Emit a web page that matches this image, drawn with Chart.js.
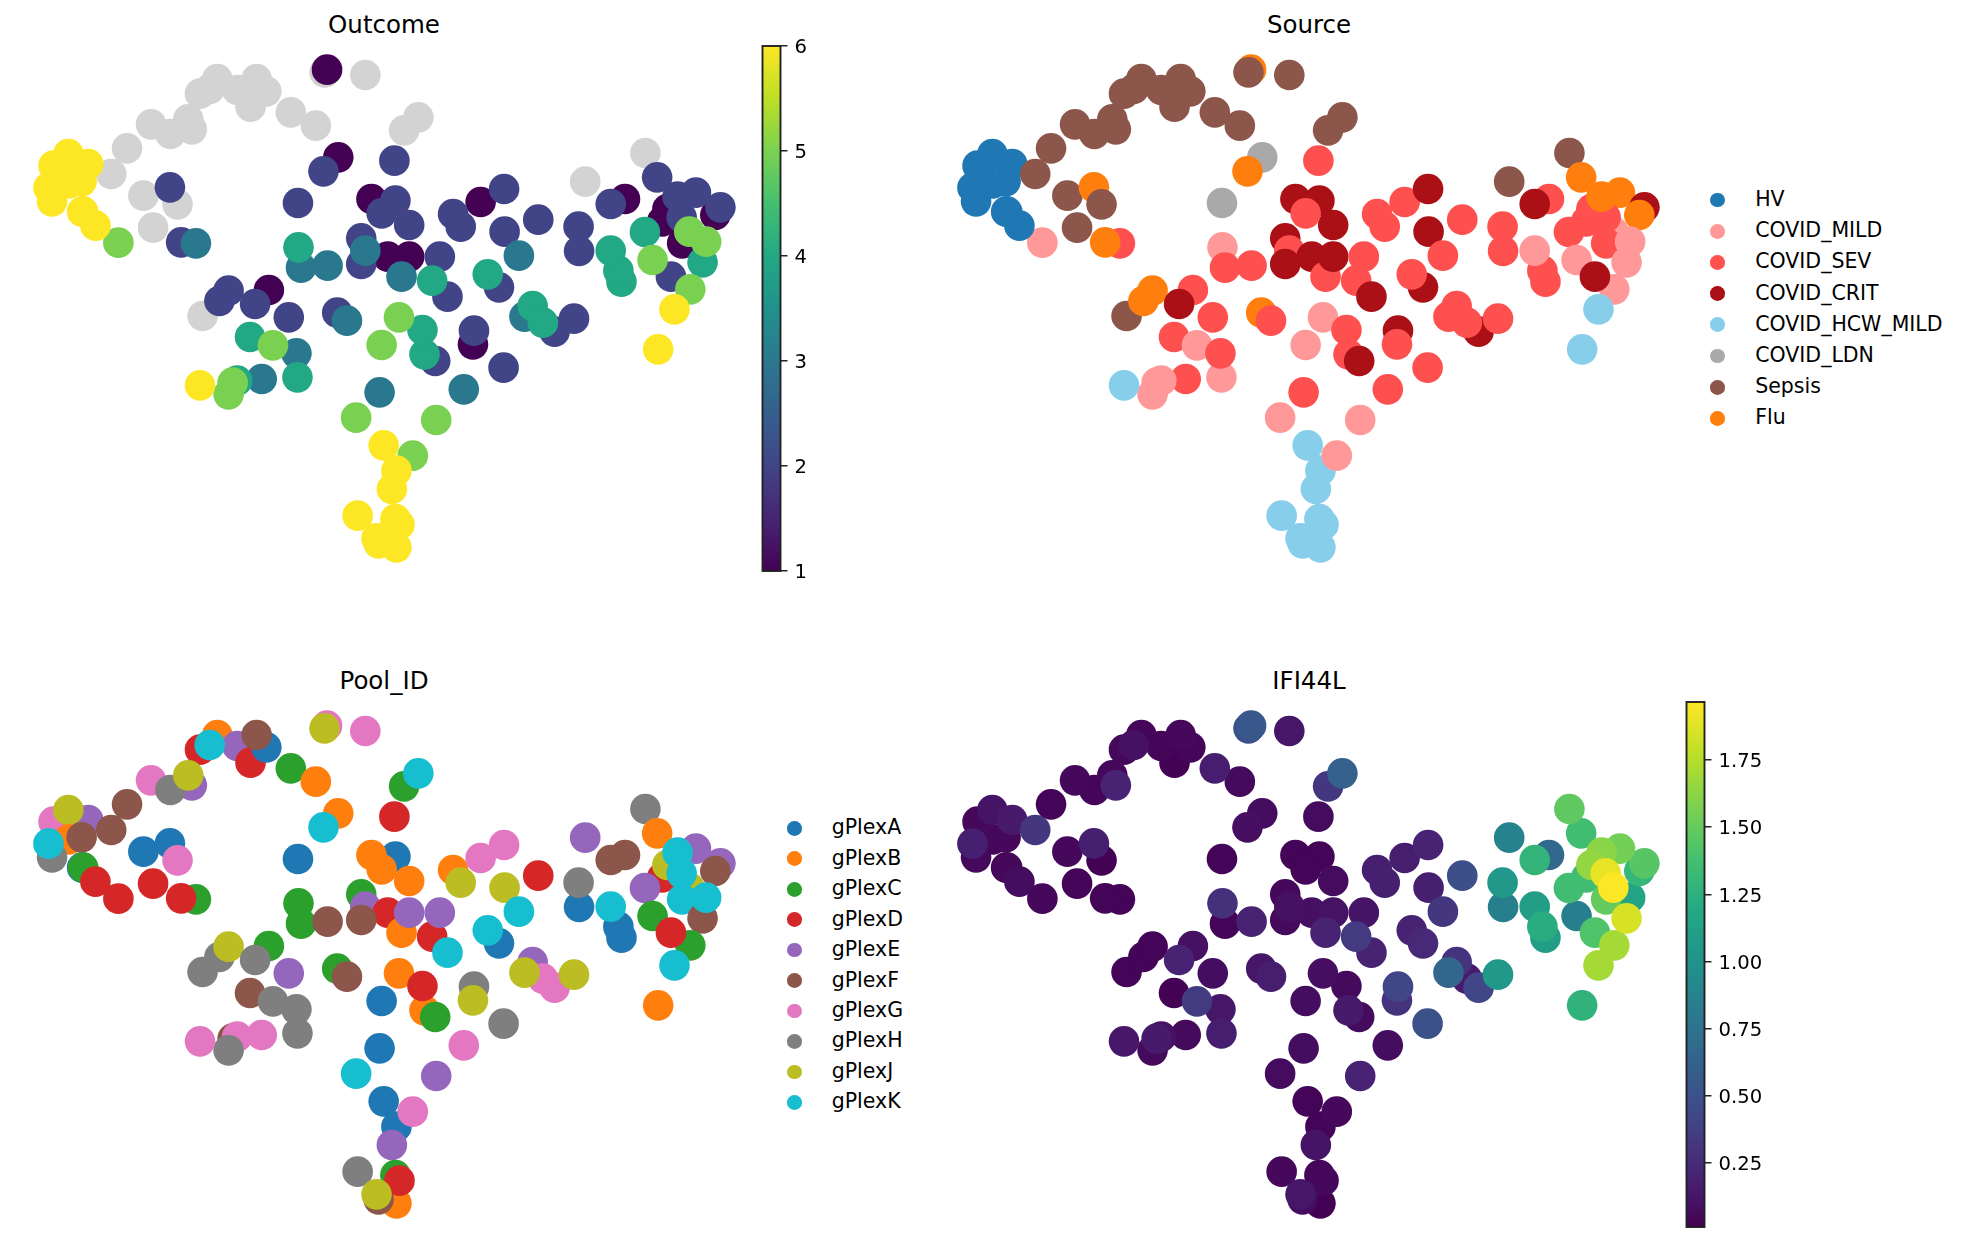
<!DOCTYPE html>
<html>
<head>
<meta charset="utf-8">
<title>UMAP panels</title>
<script src="https://cdn.jsdelivr.net/npm/chart.js@4"></script>
<style>
  html, body { margin: 0; padding: 0; background: #fff; }
  body { width: 1968px; height: 1242px; position: relative; overflow: hidden; font-family: "DejaVu Sans", sans-serif; color: #000; }
  canvas { position: absolute; }
  .title { position: absolute; font-size: 24.5px; line-height: 30px; transform: translateX(-50%); white-space: nowrap; }
  .key { position: absolute; font-size: 20.5px; line-height: 26px; white-space: pre; }
  .dot { position: absolute; width: 14.7px; height: 14.7px; border-radius: 50%; }
</style>
</head>
<body>
<script>
// embedding coordinates, one entry per sample, in plotting order
const umap1 = [
  6.41,6.36,7.16,4.26,3.92,4.65,4.11,4.91,5.22,5.03,
  5.70,6.19,7.92,8.20,2.96,3.76,3.34,3.69,2.49,1.05,
  1.73,1.34,1.35,1.02,0.95,1.60,2.18,1.61,1.63,2.32,
  1.87,2.81,3.33,3.48,3.00,3.84,3.55,6.63,6.34,7.73,
  5.84,7.75,7.28,8.02,7.48,8.88,9.03,9.42,9.88,9.89,
  10.55,10.17,9.78,9.56,11.35,11.34,11.47,12.25,11.97,12.65,
  12.88,12.98,13.08,12.64,13.64,14.12,14.02,13.51,13.36,13.28,
  13.37,13.77,13.84,12.79,13.53,13.15,13.22,12.18,12.12,11.97,
  7.08,5.85,5.90,6.42,7.16,7.60,7.08,7.87,8.02,8.47,
  8.62,8.77,3.97,4.30,4.48,5.27,5.00,5.66,6.61,6.80,
  7.82,4.90,5.35,5.83,5.81,4.56,5.13,4.65,4.48,3.92,
  7.48,8.32,8.28,8.53,9.29,9.27,9.87,10.44,10.87,10.64,
  10.28,11.25,7.44,9.09,6.98,8.55,7.52,7.77,8.09,7.68,
  7.01,7.75,7.77,7.42,7.83,7.38,12.90
];
const umap2 = [
  15.91,15.83,15.75,15.63,15.19,15.30,15.33,14.80,15.26,15.63,
  14.63,14.23,14.09,14.48,14.27,14.12,13.98,14.42,13.55,13.03,
  13.08,13.38,12.50,11.96,12.37,12.56,12.78,11.65,11.65,10.72,
  11.23,12.13,12.38,11.87,11.17,10.70,10.73,13.28,12.86,13.18,
  11.91,11.98,12.03,11.25,11.60,11.58,11.20,11.94,12.33,11.05,
  11.41,10.33,9.38,9.77,10.47,11.20,12.55,12.03,11.88,13.41,
  12.68,11.36,11.73,11.04,12.22,11.78,11.55,11.05,11.48,12.10,
  10.70,10.13,10.75,10.20,9.32,9.70,8.72,9.55,9.88,10.48,
  10.85,10.58,9.97,10.03,10.48,10.30,10.08,9.70,10.30,9.58,
  10.30,9.10,8.52,8.97,9.28,9.30,8.88,8.48,8.62,8.38,
  8.48,7.89,7.64,6.68,7.40,6.52,6.63,6.58,6.17,6.44,
  7.65,7.37,8.10,7.17,8.08,7.67,6.97,8.82,8.05,8.32,
  8.50,8.44,6.23,6.32,5.47,5.40,4.64,3.88,4.33,3.33,
  2.53,2.43,1.58,1.70,2.26,1.85,7.52
];

const n = null;
const outcome = [
  1,n,n,n,n,n,n,n,n,n,
  n,n,n,n,n,n,n,n,n,6,
  6,6,6,6,6,6,n,6,6,5,
  6,n,2,n,n,3,2,1,2,2,
  2,2,1,2,2,2,2,1,2,2,
  2,3,2,4,2,2,n,1,2,n,
  2,1,1,4,2,2,1,5,2,2,
  1,4,5,5,5,2,6,4,4,4,
  2,4,3,3,3,1,2,3,1,4,
  2,2,n,2,2,1,2,2,2,3,
  5,4,5,4,3,5,3,4,5,6,
  5,4,4,2,2,1,2,4,2,4,
  3,2,3,3,5,5,6,6,5,6,
  6,6,6,6,6,6,6
];

// index into sourceNames
const source = [
  7,6,6,6,6,6,6,6,6,6,
  6,6,6,6,6,6,6,6,6,0,
  0,0,0,0,0,0,6,0,0,1,
  0,6,7,6,6,2,7,5,7,2,
  5,3,3,3,2,2,2,2,3,3,
  2,2,3,2,2,2,6,2,3,6,
  7,2,2,2,7,3,7,1,2,7,
  2,1,1,1,1,3,4,2,2,1,
  3,1,2,2,2,3,3,2,3,2,
  2,3,6,7,7,2,3,2,7,2,
  1,2,1,1,2,1,2,1,1,4,
  1,2,2,3,3,2,2,2,3,2,
  2,2,2,2,1,1,4,4,1,4,
  4,4,4,4,4,4,4
];

// index into poolNames
const pool = [
  6,8,6,1,3,4,9,3,0,5,
  2,1,2,9,6,4,7,8,5,6,
  4,8,1,7,9,5,5,0,2,3,
  3,0,0,6,3,2,3,1,9,3,
  0,0,1,1,1,1,8,6,6,8,
  3,9,0,9,0,7,4,5,5,7,
  1,3,8,4,4,4,5,8,9,9,
  9,5,9,2,2,3,9,0,0,9,
  2,2,2,5,4,3,5,1,4,3,
  4,9,7,7,8,2,7,4,2,5,
  1,5,7,7,7,5,6,6,7,6,
  0,1,3,2,7,8,7,4,6,6,
  8,8,0,6,9,4,0,0,6,4,
  7,2,1,5,3,8,1
];

const ifi44l = [
  .55,.50,.13,.04,.05,.04,.10,.02,.04,.05,
  .17,.06,.32,.62,.05,.20,.04,.05,.03,.05,
  .15,.12,.05,.05,.18,.05,.32,.03,.05,.05,
  .08,.05,.18,.02,.03,.03,.03,.08,.09,.07,
  .03,.03,.03,.07,.03,.18,.18,.17,.20,.18,
  .48,.32,.24,.20,.85,1.05,.88,.68,1.28,1.48,
  1.36,1.35,1.65,1.36,1.55,1.45,1.30,1.96,1.90,1.62,
  1.50,1.85,1.15,.85,1.70,1.42,1.70,1.10,1.22,1.10,
  .05,.28,.03,.20,.10,.09,.06,.20,.11,.34,
  .12,.20,.03,.03,.03,.10,.20,.08,.13,.17,
  .09,.02,.35,.17,.13,.15,.06,.10,.06,.14,
  .08,.15,.06,.07,.42,.30,.50,.30,.42,.15,
  .65,1.05,.08,.08,.07,.20,.03,.03,.05,.12,
  .05,.04,.01,.08,.05,.13,1.27
];

const sourceNames = ['HV','COVID_MILD','COVID_SEV','COVID_CRIT','COVID_HCW_MILD','COVID_LDN','Sepsis','Flu'];
const sourceColors = ['#1f77b4','#ff9999','#ff5050','#aa1016','#87ceeb','#a9a9a9','#8c564b','#ff7f0e'];
const poolNames = ['gPlexA','gPlexB','gPlexC','gPlexD','gPlexE','gPlexF','gPlexG','gPlexH','gPlexJ','gPlexK'];
const poolColors = ['#1f77b4','#ff7f0e','#2ca02c','#d62728','#9467bd','#8c564b','#e377c2','#7f7f7f','#bcbd22','#17becf'];

const outcomeTicks = [1,2,3,4,5,6];
const outcomeRange = [1,6];
const ifiTicks = [0.25,0.5,0.75,1,1.25,1.5,1.75];
const ifiRange = [0.0125,1.966];

const viridisStops = ['#440154','#482475','#414487','#355f8d','#2a788e','#21918c','#22a884','#44bf70','#7ad151','#bddf26','#fde725'];
const missingColor = '#d3d3d3';

Chart.defaults.font.family = '"DejaVu Sans", sans-serif';
Chart.defaults.color = '#000';
Chart.defaults.animation = false;

function viridis(t) {
  t = Math.min(1, Math.max(0, t)) * (viridisStops.length - 1);
  const i = Math.min(Math.floor(t), viridisStops.length - 2);
  const f = t - i;
  const a = viridisStops[i], b = viridisStops[i + 1];
  let out = 'rgb(';
  for (let k = 0; k < 3; k++) {
    const ca = parseInt(a.substr(1 + k * 2, 2), 16);
    const cb = parseInt(b.substr(1 + k * 2, 2), 16);
    out += Math.round(ca + (cb - ca) * f) + (k < 2 ? ',' : ')');
  }
  return out;
}

function makeCanvas(left, top, w, h) {
  const c = document.createElement('canvas');
  c.width = w;
  c.height = h;
  c.style.left = left + 'px';
  c.style.top = top + 'px';
  c.style.width = w + 'px';
  c.style.height = h + 'px';
  document.body.appendChild(c);
  return c;
}

// one embedding panel; order decides which dot ends up on top
function scatterPanel(left, top, colorOf, order) {
  const pts = order.map(i => ({ x: umap1[i], y: umap2[i] }));
  new Chart(makeCanvas(left, top, 760, 540), {
    type: 'scatter',
    data: { datasets: [{
      data: pts,
      pointRadius: 15.3,
      pointHoverRadius: 15.3,
      pointBorderWidth: 0,
      pointBackgroundColor: order.map(colorOf),
      clip: false
    }] },
    options: {
      responsive: false,
      events: [],
      layout: { padding: 0, autoPadding: false },
      plugins: { legend: { display: false }, tooltip: { enabled: false } },
      scales: {
        x: { display: false, min: 0, max: 14.896 },
        y: { display: false, min: 0.6, max: 16.8 }
      }
    }
  });
}

function colorbar(left, top, range, ticks, fmt) {
  new Chart(makeCanvas(left, top, 92, 565), {
    type: 'bar',
    data: { labels: [''], datasets: [{
      data: [[range[0], range[1]]],
      barPercentage: 1,
      categoryPercentage: 1,
      backgroundColor(ctx) {
        const area = ctx.chart.chartArea;
        if (!area) return '#000';
        const g = ctx.chart.ctx.createLinearGradient(0, area.bottom, 0, area.top);
        for (let i = 0; i <= 40; i++) g.addColorStop(i / 40, viridis(i / 40));
        return g;
      }
    }] },
    options: {
      responsive: false,
      events: [],
      layout: { padding: { left: 2.5, top: 20, bottom: 20, right: 0 }, autoPadding: false },
      plugins: { legend: { display: false }, tooltip: { enabled: false } },
      scales: {
        x: { display: false },
        y: {
          position: 'right',
          min: range[0],
          max: range[1],
          border: { display: false },
          grid: { drawOnChartArea: false, drawTicks: true, tickLength: 7, tickColor: '#222', lineWidth: 1.5 },
          ticks: { font: { size: 19.6 }, padding: 7, labelOffset: 2, color: '#000', callback: fmt, autoSkip: false, maxRotation: 0 },
          afterBuildTicks(scale) { scale.ticks = ticks.map(v => ({ value: v })); },
          afterFit(scale) { scale.width = 71.5; }
        }
      }
    },
    plugins: [{
      id: 'outline',
      afterDraw(chart) {
        const a = chart.chartArea, c = chart.ctx;
        c.save();
        c.strokeStyle = '#222';
        c.lineWidth = 1.9;
        c.strokeRect(a.left, a.top, a.right - a.left, a.bottom - a.top);
        c.restore();
      }
    }]
  });
}

function addTitle(text, cx, top) {
  const d = document.createElement('div');
  d.className = 'title';
  d.textContent = text;
  d.style.left = cx + 'px';
  d.style.top = top + 'px';
  document.body.appendChild(d);
}

function addLegend(names, colors, dotX, textX, firstY, stepY) {
  names.forEach((name, i) => {
    const y = firstY + i * stepY;
    const dot = document.createElement('div');
    dot.className = 'dot';
    dot.style.background = colors[i];
    dot.style.left = (dotX - 7.35) + 'px';
    dot.style.top = (y - 7.35) + 'px';
    document.body.appendChild(dot);
    const t = document.createElement('div');
    t.className = 'key';
    t.textContent = name;
    t.style.left = textX + 'px';
    t.style.top = (y - 14) + 'px';
    document.body.appendChild(t);
  });
}

const dataOrder = umap1.map((_, i) => i);

// continuous panels draw low values first, samples without a value underneath
function sortedBy(values) {
  return dataOrder.slice().sort((a, b) => {
    const va = values[a] === null ? -Infinity : values[a];
    const vb = values[b] === null ? -Infinity : values[b];
    return va - vb || a - b;
  });
}

function rangeColor(values, range) {
  return i => values[i] === null ? missingColor : viridis((values[i] - range[0]) / (range[1] - range[0]));
}

scatterPanel(0, 40, rangeColor(outcome, outcomeRange), sortedBy(outcome));
scatterPanel(924, 40, i => sourceColors[source[i]], dataOrder);
scatterPanel(0, 696, i => poolColors[pool[i]], dataOrder);
scatterPanel(924, 696, rangeColor(ifi44l, ifiRange), sortedBy(ifi44l));

colorbar(760, 26, outcomeRange, outcomeTicks, v => String(v));
colorbar(1684, 682, ifiRange, ifiTicks, v => v.toFixed(2));

addTitle('Outcome', 384, 10);
addTitle('Source', 1309, 10);
addTitle('Pool_ID', 384, 666);
addTitle('IFI44L', 1309, 666);

addLegend(sourceNames, sourceColors, 1717.3, 1755.2, 200, 31.2);
addLegend(poolNames, poolColors, 794.3, 831.7, 828.3, 30.45);
</script>
</body>
</html>
